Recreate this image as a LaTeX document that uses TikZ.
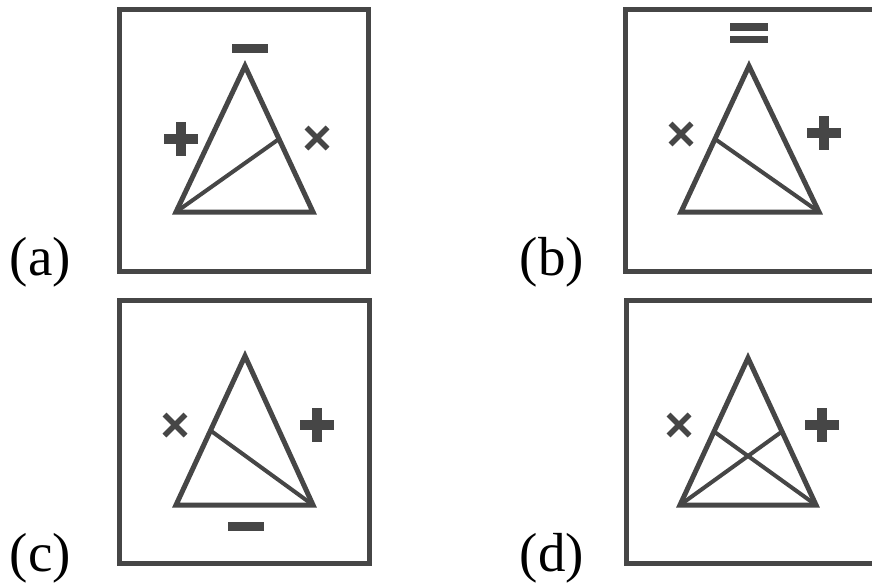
\documentclass[tikz,border=0pt]{standalone}
\usepackage{fontspec}
\setmainfont{Liberation Serif}
\usetikzlibrary{calc}
\definecolor{ink}{RGB}{70,70,70}
\tikzset{
  frame/.style={draw=ink, line width=5pt},
  tri/.style={draw=ink, line width=5pt, line join=miter},
  cut/.style={draw=ink, line width=4pt},
  lab/.style={anchor=base west, inner sep=0pt, font=\fontsize{55}{60}\selectfont},
  plussign/.pic={\fill[ink] (-17,-5) rectangle (17,5); \fill[ink] (-5,-17) rectangle (5,17);},
  minussign/.pic={\fill[ink] (-18,-4.5) rectangle (18,4.5);},
  equalsign/.pic={\fill[ink] (-19,-10) rectangle (19,-2); \fill[ink] (-19,3) rectangle (19,10);},
  crosssign/.pic={\draw[ink, line width=5.5pt] (-10.5,-10.5) -- (10.5,10.5) (-10.5,10.5) -- (10.5,-10.5);}
}
\begin{document}
\begin{tikzpicture}[x=1pt, y=-1pt]
\clip (0,0) rectangle (872,587);
\fill[white] (0,0) rectangle (872,587);
% frames
\draw[frame] (119,9) rectangle (368,271);
\draw[frame] (625,9) rectangle (875,271);
\draw[frame] (119,300) rectangle (369,563);
\draw[frame] (626,300) rectangle (876,563);
% labels
\node[lab] (la) at (9.5,275) {(a)};
\node[lab] (lb) at (519.5,275) {(b)};
\node[lab] (lc) at (9.5,571) {(c)};
\node[lab] (ld) at (519.5,571) {(d)};
% (a)
\coordinate (aA) at (245,66); \coordinate (aL) at (176,212); \coordinate (aR) at (313,212);
\draw[tri] (aA) -- (aL) -- (aR) -- cycle;
\draw[cut] (aL) -- ($(aA)!0.5!(aR)$);
\pic at (250,48) {minussign};
\pic at (181,139) {plussign};
\pic at (317,138) {crosssign};
% (b)
\coordinate (bA) at (749,66); \coordinate (bL) at (681,212); \coordinate (bR) at (819,212);
\draw[tri] (bA) -- (bL) -- (bR) -- cycle;
\draw[cut] (bR) -- ($(bA)!0.5!(bL)$);
\pic at (749,33) {equalsign};
\pic at (681,134) {crosssign};
\pic at (824,133) {plussign};
% (c)
\coordinate (cA) at (245,356); \coordinate (cL) at (176,505); \coordinate (cR) at (313,505);
\draw[tri] (cA) -- (cL) -- (cR) -- cycle;
\draw[cut] (cR) -- ($(cA)!0.5!(cL)$);
\pic at (246,526) {minussign};
\pic at (175,425) {crosssign};
\pic at (317,425) {plussign};
% (d)
\coordinate (dA) at (748,358); \coordinate (dL) at (680,505); \coordinate (dR) at (816,505);
\draw[tri] (dA) -- (dL) -- (dR) -- cycle;
\draw[cut] (dR) -- ($(dA)!0.5!(dL)$);
\draw[cut] (dL) -- ($(dA)!0.5!(dR)$);
\pic at (679,425) {crosssign};
\pic at (822,425) {plussign};
\end{tikzpicture}
\end{document}
